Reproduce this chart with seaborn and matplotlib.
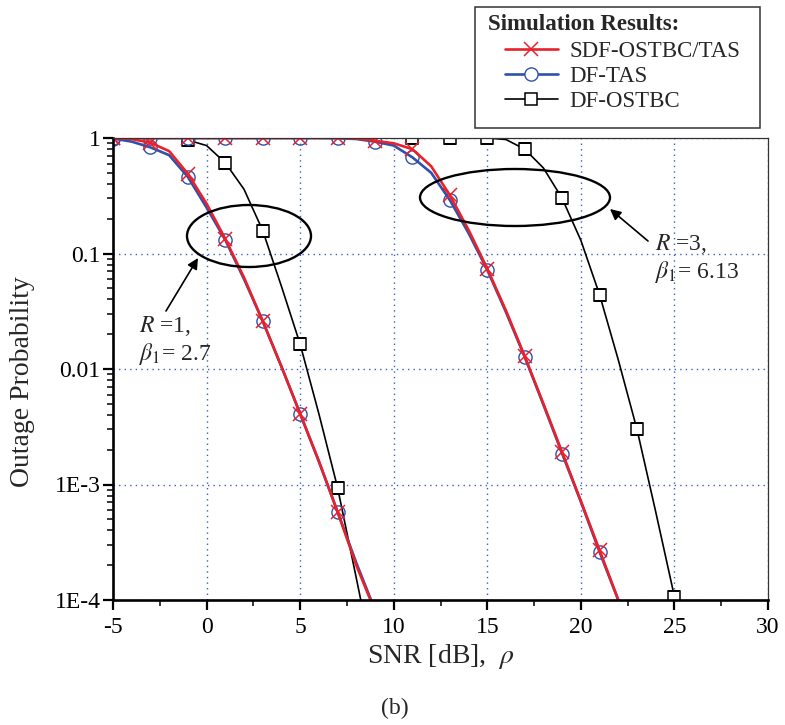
import matplotlib
matplotlib.use("Agg")
import matplotlib.pyplot as plt
import seaborn as sns
import pandas as pd
from matplotlib.patches import Ellipse, Rectangle
from matplotlib.lines import Line2D
from matplotlib.path import Path
from matplotlib.ticker import LogLocator, MultipleLocator, NullFormatter

# ---------------- data ----------------
snr_r1 = [-5, -4, -3, -2, -1, 0, 1, 2, 3, 4, 5, 6, 7, 8, 9]
sdf_r1 = [1.0, 0.98, 0.91, 0.77, 0.49, 0.27, 0.134, 0.062, 0.026, 0.0105,
          0.0041, 0.0016, 0.00058, 0.0002, 0.00008]
tas_r1 = [0.99, 0.93, 0.83, 0.71, 0.46, 0.25, 0.131, 0.060, 0.026, 0.0105,
          0.0041, 0.00158, 0.00058, 0.00021, 0.000082]

snr_ostbc_r1 = [-1, 0, 1, 2, 3, 4, 5, 6, 7, 8, 9]
ostbc_r1 = [0.96, 0.86, 0.61, 0.36, 0.158, 0.052, 0.0164, 0.0041, 0.00094,
            0.000155, 0.000025]

snr_r3 = [-5, -4, -3, -2, -1, 0, 1, 2, 3, 4, 5, 6, 7, 8, 9, 10, 11, 12, 13,
          14, 15, 16, 17, 18, 19, 20, 21, 22, 23]
sdf_r3 = [1.0, 1.0, 1.0, 1.0, 1.0, 1.0, 1.0, 1.0, 1.0, 1.0, 1.0, 1.0, 1.0,
          0.99, 0.945, 0.90, 0.80, 0.57, 0.32, 0.16, 0.074, 0.032, 0.0129,
          0.0050, 0.0019, 0.00072, 0.00027, 0.0001, 0.000036]
tas_r3 = [1.0, 1.0, 1.0, 1.0, 1.0, 1.0, 1.0, 1.0, 1.0, 1.0, 1.0, 1.0, 0.995,
          0.98, 0.93, 0.86, 0.68, 0.50, 0.29, 0.15, 0.072, 0.031, 0.0127,
          0.0049, 0.00185, 0.00071, 0.00026, 0.0001, 0.000037]

snr_ostbc_r3 = [9, 10, 11, 12, 13, 14, 15, 16, 17, 18, 19, 20, 21, 22, 23, 24, 25]
ostbc_r3 = [1.0, 1.0, 1.0, 1.0, 1.0, 1.0, 1.0, 0.97, 0.80, 0.55, 0.30, 0.13,
            0.044, 0.012, 0.003, 0.00058, 0.000107]

series_labels = ["SDF-OSTBC/TAS", "DF-TAS", "DF-OSTBC"]
xticks = [-5, 0, 5, 10, 15, 20, 25, 30]
xtick_labels = ["-5", "0", "5", "10", "15", "20", "25", "30"]
yticks = [1e-4, 1e-3, 1e-2, 1e-1, 1]
ytick_labels = ["1E-4", "1E-3", "0.01", "0.1", "1"]

# ---------------- style ----------------
sns.set_style("ticks")
plt.rcParams["font.family"] = ["Liberation Serif", "DejaVu Serif"]
plt.rcParams["mathtext.fontset"] = "stix"
plt.rcParams["axes.unicode_minus"] = False

W, H = 785, 725
fig = plt.figure(figsize=(W / 100, H / 100), dpi=100)
L, R, T, B = 113, 768, 138, 600
ax = fig.add_axes([L / W, 1 - B / H, (R - L) / W, (B - T) / H])

RED = "#e8212b"
BLUE = "#2f51ad"
BLACK = "#000000"

black_kw = dict(color=BLACK, lw=1.2, marker="s", markersize=8.2,
                markerfacecolor="white", markeredgecolor=BLACK,
                markeredgewidth=1.1)
blue_kw = dict(color=BLUE, lw=1.9, marker="o", markersize=9.5,
               markerfacecolor="none", markeredgecolor=BLUE,
               markeredgewidth=1.0)
red_kw = dict(color=RED, lw=1.9, marker="x", markersize=9.5,
              markeredgecolor=RED, markeredgewidth=1.1)

def draw(x, y, kw, every):
    df = pd.DataFrame({"snr": x, "p": y})
    sns.lineplot(data=df, x="snr", y="p", ax=ax, legend=False,
                 estimator=None, sort=False, markevery=every, **kw)

ax.set_yscale("log")
draw(snr_ostbc_r1, ostbc_r1, black_kw, 2)
draw(snr_ostbc_r3, ostbc_r3, black_kw, (2, 2))
draw(snr_r1, tas_r1, blue_kw, 2)
draw(snr_r3, tas_r3, blue_kw, 2)
draw(snr_r1, sdf_r1, red_kw, 2)
draw(snr_r3, sdf_r3, red_kw, 2)

# clip lines and markers exactly to the axes area (half markers on the top edge)
for ln in ax.lines:
    ln.set_clip_path(Path([(0, 0), (1, 0), (1, 1), (0, 1), (0, 0)]), ax.transAxes)

ax.set_xlim(-5, 30)
ax.set_ylim(1e-4, 1)

ax.set_xticks(xticks)
ax.set_xticklabels(xtick_labels)
ax.xaxis.set_minor_locator(MultipleLocator(2.5))
ax.set_yticks(yticks)
ax.set_yticklabels(ytick_labels)
ax.yaxis.set_minor_locator(LogLocator(base=10, subs=[2, 3, 4, 5, 6, 7, 8, 9]))
ax.yaxis.set_minor_formatter(NullFormatter())

ax.tick_params(which="major", direction="out", length=7, width=1.6,
               labelsize=17, colors="black", top=False, right=False)
ax.tick_params(which="minor", direction="out", length=4.5, width=1.3,
               top=False, right=False)
ax.tick_params(axis="x", which="major", pad=5)
ax.tick_params(axis="y", which="major", pad=2)

for s in ["left", "bottom"]:
    ax.spines[s].set_linewidth(1.9)
    ax.spines[s].set_color("black")
for s in ["top", "right"]:
    ax.spines[s].set_linewidth(0.9)
    ax.spines[s].set_color("#333333")

ax.grid(True, which="major", color="#3a5ec4", linestyle=(0, (1, 3)), lw=1.0)
ax.set_axisbelow(True)

ax.set_xlabel(r"SNR [dB],  $\rho$", fontsize=20)
ax.set_ylabel("Outage Probability", fontsize=20)
ax.xaxis.set_label_coords(0.5, (B - 642) / (B - T))
ax.yaxis.set_label_coords((35 - L) / (R - L), 1 - (382 - T) / (B - T))

# ---------------- ellipses and annotations ----------------
def axf(px, py):
    return ((px - L) / (R - L), 1 - (py - T) / (B - T))

for (cx, cy, w, h) in [(249, 236, 124, 62), (515, 197.5, 190, 57)]:
    c = axf(cx, cy)
    ax.add_patch(Ellipse(c, w / (R - L), h / (B - T), transform=ax.transAxes,
                         fill=False, lw=1.7, edgecolor="black", zorder=5,
                         clip_on=False))

def ff(px, py):
    return (px / W, 1 - py / H)

arrow_kw = dict(arrowstyle="-|>", color="black", lw=1.2, mutation_scale=16,
                shrinkA=0, shrinkB=0)
ax.annotate("", xy=ff(198, 258), xycoords="figure fraction",
            xytext=ff(166, 311), textcoords="figure fraction",
            arrowprops=arrow_kw)
ax.annotate("", xy=ff(610, 209), xycoords="figure fraction",
            xytext=ff(648, 241), textcoords="figure fraction",
            arrowprops=arrow_kw)

fs_ann = 17
fig.text(*ff(139, 326), r"$R$ =1,", fontsize=fs_ann, ha="left", va="center")
fig.text(*ff(139, 354), r"$\beta_1$= 2.7", fontsize=fs_ann, ha="left", va="center")
fig.text(*ff(655, 244), r"$R$ =3,", fontsize=fs_ann, ha="left", va="center")
fig.text(*ff(655, 272), r"$\beta_1$= 6.13", fontsize=fs_ann, ha="left", va="center")

fig.text(*ff(395, 708), "(b)", fontsize=17, ha="center", va="center")

# ---------------- legend ----------------
handles = [
    Line2D([], [], color=RED, lw=1.9, marker="x", markersize=9.5,
           markeredgecolor=RED, markeredgewidth=1.1),
    Line2D([], [], color=BLUE, lw=1.9, marker="o", markersize=9.5,
           markerfacecolor="white", markeredgecolor=BLUE, markeredgewidth=1.0),
    Line2D([], [], color=BLACK, lw=1.2, marker="s", markersize=8.2,
           markerfacecolor="white", markeredgecolor=BLACK, markeredgewidth=1.1),
]
fig.legend(handles, series_labels, loc="upper left",
           bbox_to_anchor=ff(505, 41), frameon=False, borderpad=0,
           borderaxespad=0, handlelength=2.3, handletextpad=0.5,
           labelspacing=0.18, prop={"size": 16.5})
fig.text(*ff(488, 25), "Simulation Results:", fontsize=16.5,
         fontweight="bold", ha="left", va="center")
fig.add_artist(Rectangle(ff(475, 128), (760 - 475) / W, (128 - 7) / H,
                         transform=fig.transFigure, fill=False, lw=1.1,
                         edgecolor="#333333"))

fig.savefig("out.png", dpi=100)
